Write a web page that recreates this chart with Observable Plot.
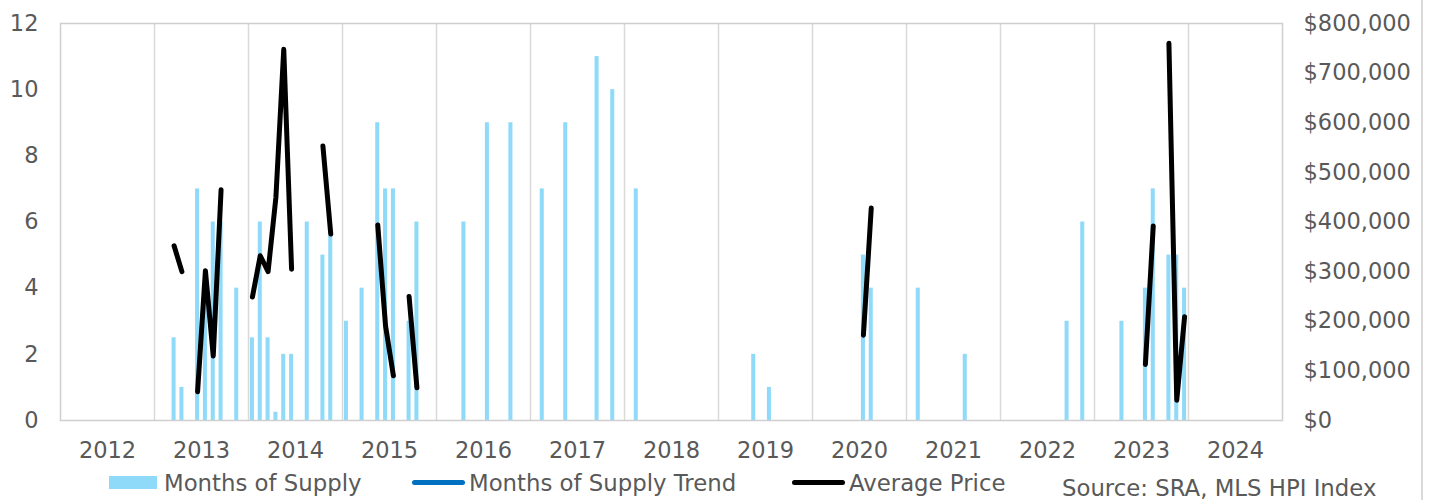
<!DOCTYPE html>
<html>
<head>
<meta charset="utf-8">
<script src="https://cdn.jsdelivr.net/npm/d3@7"></script>
<script src="https://cdn.jsdelivr.net/npm/@observablehq/plot@0.6"></script>
<style>
  body { margin: 0; background: white; }
  #wrap { position: relative; width: 1430px; height: 500px; overflow: hidden; font-family: "DejaVu Sans", Verdana, sans-serif; color: #595959; }
  .lg { position: absolute; font-size: 22.8px; line-height: 22px; white-space: nowrap; }
  .sw { position: absolute; }
</style>
</head>
<body>
<div id="wrap">
  <div id="chart"></div>
  <div class="sw" style="left:109px; top:476px; width:48px; height:13px; background:#8fd9f9;"></div>
  <div class="lg" style="left:164px; top:472px;">Months of Supply</div>
  <div class="sw" style="left:412px; top:480px; width:53px; height:5px; border-radius:3px; background:#0070c0;"></div>
  <div class="lg" style="left:469px; top:472px;">Months of Supply Trend</div>
  <div class="sw" style="left:792px; top:480px; width:53px; height:5px; border-radius:3px; background:#000;"></div>
  <div class="lg" style="left:849px; top:472px;">Average Price</div>
  <div class="lg" style="left:1062px; top:477px;">Source: SRA, MLS HPI Index</div>
  <div class="sw" style="left:1421px; top:0px; width:1.5px; height:500px; background:#d9d9d9;"></div>
</div>
<script>
const yearLabels = ["2012","2013","2014","2015","2016","2017","2018","2019","2020","2021","2022","2023","2024"];
const leftTicks = [0, 2, 4, 6, 8, 10, 12];
const rightTicks = [0, 100000, 200000, 300000, 400000, 500000, 600000, 700000, 800000];

const supplyMonths = [
  "2013-03","2013-04","2013-06","2013-07","2013-08","2013-09","2013-11",
  "2014-01","2014-02","2014-03","2014-04","2014-05","2014-06","2014-08","2014-10","2014-11",
  "2015-01","2015-03","2015-05","2015-06","2015-07","2015-09","2015-10",
  "2016-04","2016-07","2016-10",
  "2017-02","2017-05","2017-09","2017-11",
  "2018-02",
  "2019-05","2019-07",
  "2020-07","2020-08",
  "2021-02","2021-08",
  "2022-09","2022-11",
  "2023-04","2023-07","2023-08","2023-10","2023-11","2023-12"
];
const supplyValues = [
  2.5, 1, 7, 4, 6, 6, 4,
  2.5, 6, 2.5, 0.25, 2, 2, 6, 5, 5.6,
  3, 4, 9, 7, 7, 3, 6,
  6, 9, 9,
  7, 9, 11, 10,
  7,
  2, 1,
  5, 4,
  4, 2,
  3, 6,
  3, 4, 7, 5, 5, 4
];

const priceMonths = [
  "2013-03","2013-04",
  "2013-06","2013-07","2013-08","2013-09",
  "2014-01","2014-02","2014-03","2014-04","2014-05","2014-06",
  "2014-10","2014-11",
  "2015-05","2015-06","2015-07",
  "2015-09","2015-10",
  "2020-07","2020-08",
  "2023-07","2023-08",
  "2023-10","2023-11","2023-12"
];
const priceValues = [
  352000, 300000,
  58000, 302000, 130000, 465000,
  249000, 332000, 300000, 450000, 748000, 305000,
  553000, 376000,
  394000, 190000, 90000,
  250000, 66000,
  172000, 428000,
  113000, 392000,
  760000, 41000, 209000
];

const monthIndex = s => (+s.slice(0, 4) - 2012) * 12 + (+s.slice(5, 7) - 1);
const supply = supplyMonths.map((s, i) => ({m: monthIndex(s), v: supplyValues[i]}));
let seg = 0, prev = null;
const price = priceMonths.map((s, i) => {
  const m = monthIndex(s);
  if (prev !== null && m !== prev + 1) seg++;
  prev = m;
  return {m, p: priceValues[i], seg};
});
const priceMax = 800000, supplyMax = 12;
const toY = p => p * supplyMax / priceMax;

const chart = Plot.plot({
  width: 1430,
  height: 470,
  marginLeft: 60,
  marginRight: 148,
  marginTop: 23,
  marginBottom: 50,
  x: {domain: [0, yearLabels.length * 12], axis: null},
  y: {domain: [0, supplyMax], axis: null},
  style: {fontFamily: "DejaVu Sans, Verdana, sans-serif", fontSize: "22.5px", color: "#595959", background: "white", overflow: "visible"},
  marks: [
    Plot.ruleX(d3.range(12, yearLabels.length * 12, 12), {stroke: "#d9d9d9", strokeWidth: 1.5}),
    Plot.rectY(supply, {x1: d => d.m, x2: d => d.m + 1, y: "v", fill: "#8fd9f9", insetLeft: 1.9, insetRight: 1.9}),
    Plot.frame({stroke: "#cfcfcf", strokeWidth: 1.5}),
    Plot.line(price, {x: d => d.m + 0.5, y: d => toY(d.p), z: "seg", stroke: "black", strokeWidth: 5, strokeLinecap: "round", strokeLinejoin: "round"}),
    Plot.axisY(leftTicks, {anchor: "left", tickSize: 0, tickPadding: 22, label: null, fontSize: 22.5}),
    Plot.axisY(rightTicks.map(toY), {anchor: "right", tickSize: 0, tickPadding: 21, label: null, fontSize: 22.5,
      tickFormat: v => "$" + d3.format(",")(Math.round(v * priceMax / supplyMax))}),
    Plot.axisX(yearLabels.map((y, i) => i * 12 + 6), {anchor: "bottom", tickSize: 0, tickPadding: 22, label: null, fontSize: 22.5,
      tickFormat: v => yearLabels[(v - 6) / 12]})
  ]
});
document.getElementById("chart").appendChild(chart);
</script>
</body>
</html>
